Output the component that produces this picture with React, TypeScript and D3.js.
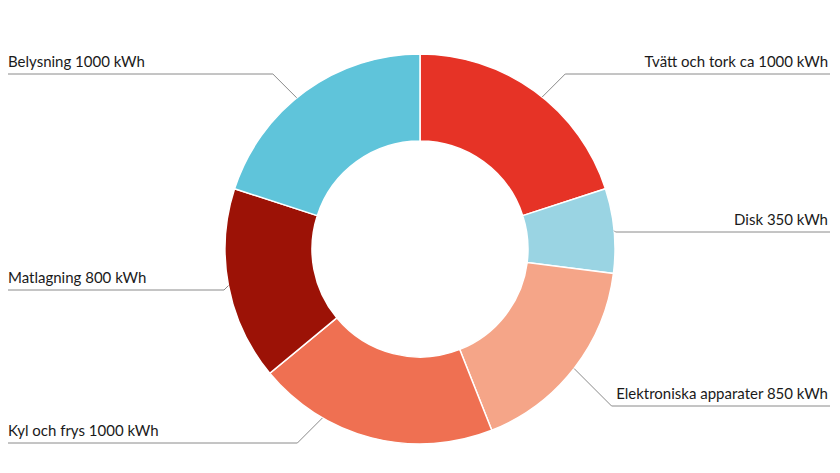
import { useEffect, useRef } from 'react';
import * as d3 from 'd3';

// energy use per category, clockwise from 12 o'clock
const categories = ['Tvätt och tork ca', 'Disk', 'Elektroniska apparater', 'Kyl och frys', 'Matlagning', 'Belysning'];
const kwh = [1000, 350, 850, 1000, 800, 1000];
const colors = ['#e63326', '#9ad4e3', '#f5a588', '#ef7052', '#9c1206', '#5fc4da'];

// where each leader line meets the ring (degrees, clockwise from top) and label row
const leaderAngles = [38.8, 84.6, 127.8, 210, 259.2, 320.8];
const labelRows = [74, 232, 406, 443, 290, 74];

export default function App() {
  const svgRef = useRef<SVGSVGElement>(null);

  useEffect(() => {
    if (!svgRef.current) return;
    const width = 840;
    const height = 473;
    const cx = 420;
    const cy = 249;
    const outerR = 195;
    const innerR = 108;

    const svg = d3.select(svgRef.current);
    svg.selectAll('*').remove();
    svg.attr('width', width).attr('height', height);

    const data = categories.map((c, i) => ({ name: c, value: kwh[i], color: colors[i] }));

    const pie = d3.pie<{ name: string; value: number; color: string }>()
      .value(d => d.value)
      .sort(null);

    const arc = d3.arc<d3.PieArcDatum<{ name: string; value: number; color: string }>>()
      .innerRadius(innerR)
      .outerRadius(outerR);

    const g = svg.append('g').attr('transform', `translate(${cx},${cy})`);

    g.selectAll('path')
      .data(pie(data))
      .enter()
      .append('path')
      .attr('d', arc)
      .attr('fill', d => d.data.color)
      .attr('stroke', '#fff')
      .attr('stroke-width', 1.5);

    // leader lines + labels
    data.forEach((d, i) => {
      const a = (leaderAngles[i] * Math.PI) / 180;
      const ax = cx + outerR * Math.sin(a);
      const ay = cy - outerR * Math.cos(a);
      const ly = labelRows[i];
      const right = ax > cx;
      const dy = Math.abs(ly - ay);
      const ex = right ? ax + dy : ax - dy;
      const endX = right ? 830 : 8;

      svg.append('polyline')
        .attr('points', `${ax},${ay} ${ex},${ly} ${endX},${ly}`)
        .attr('fill', 'none')
        .attr('stroke', '#8a8a8a')
        .attr('stroke-width', 1);

      svg.append('text')
        .attr('x', right ? 828 : 8)
        .attr('y', ly - 7)
        .attr('text-anchor', right ? 'end' : 'start')
        .attr('font-family', 'Lato, "Open Sans", sans-serif')
        .attr('font-size', 15)
        .attr('fill', '#1a1a1a')
        .text(`${d.name} ${d.value} kWh`);
    });
  }, []);

  return (
    <div style={{ position: 'absolute', left: 0, top: 0 }}>
      <svg ref={svgRef} style={{ display: 'block' }}></svg>
    </div>
  );
}
